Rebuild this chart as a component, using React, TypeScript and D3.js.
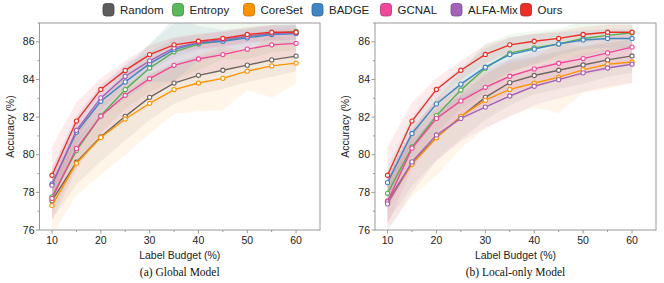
import React from "react";
import * as d3 from "d3";

const budgets = [10, 15, 20, 25, 30, 35, 40, 45, 50, 55, 60];
const methods = ["Random", "Entropy", "CoreSet", "BADGE", "GCNAL", "ALFA-Mix", "Ours"];
const lineColors = ["#6f6560", "#55b050", "#ff9400", "#3f86c4", "#f0479a", "#a463b8", "#ec2f25"];
const legendColors = ["#5c5c5c", "#5cb85c", "#ff9400", "#3f86c4", "#f0479a", "#a463b8", "#ec2f25"];

// (a) Global Model — means
const globalRandom = [77.56, 79.6, 80.95, 82.04, 83.05, 83.81, 84.22, 84.49, 84.76, 85.04, 85.24];
const globalEntropy = [77.76, 80.22, 82.07, 83.46, 84.61, 85.47, 85.88, 86.06, 86.28, 86.45, 86.55];
const globalCoreSet = [77.31, 79.55, 80.92, 81.9, 82.73, 83.46, 83.81, 84.06, 84.44, 84.72, 84.87];
const globalBADGE = [78.45, 81.19, 82.84, 83.87, 84.84, 85.59, 85.94, 86.03, 86.21, 86.39, 86.44];
const globalGCNAL = [77.68, 80.33, 82.05, 83.16, 84.04, 84.75, 85.09, 85.32, 85.61, 85.84, 85.92];
const globalALFAMix = [78.38, 81.3, 83.02, 84.17, 84.99, 85.68, 85.97, 86.12, 86.3, 86.45, 86.47];
const globalOurs = [78.91, 81.79, 83.47, 84.48, 85.32, 85.84, 86.03, 86.18, 86.39, 86.51, 86.51];

// (a) Global Model — std
const globalRandomStd = [1.0, 1.2, 1.3, 1.3, 1.2, 1.1, 1.0, 1.0, 0.9, 0.9, 0.8];
const globalEntropyStd = [0.9, 0.9, 0.9, 1.0, 1.3, 1.5, 1.4, 1.0, 1.2, 1.0, 1.0];
const globalCoreSetStd = [1.6, 1.7, 2.0, 1.9, 1.6, 1.3, 1.5, 1.7, 1.0, 1.7, 1.1];
const globalBADGEStd = [0.8, 0.8, 0.8, 0.9, 1.0, 1.7, 0.9, 0.6, 0.5, 0.5, 0.5];
const globalGCNALStd = [1.2, 1.1, 1.0, 1.0, 0.9, 0.9, 0.8, 0.8, 0.8, 0.8, 0.8];
const globalALFAMixStd = [0.9, 0.8, 0.7, 0.6, 0.5, 0.5, 0.4, 0.4, 0.4, 0.4, 0.4];
const globalOursStd = [1.5, 1.0, 0.6, 0.5, 0.5, 0.4, 0.4, 0.4, 0.4, 0.4, 0.4];

// (b) Local-only Model — means
const localRandom = [77.53, 79.55, 80.92, 82.02, 83.05, 83.83, 84.21, 84.49, 84.77, 85.04, 85.25];
const localEntropy = [77.95, 80.41, 82.08, 83.44, 84.6, 85.4, 85.68, 85.89, 86.18, 86.34, 86.48];
const localCoreSet = [77.45, 79.5, 80.9, 82.04, 82.9, 83.47, 83.8, 84.12, 84.51, 84.81, 84.93];
const localBADGE = [78.52, 81.13, 82.7, 83.75, 84.65, 85.32, 85.61, 85.89, 86.1, 86.18, 86.18];
const localGCNAL = [77.5, 80.35, 81.93, 82.86, 83.58, 84.17, 84.56, 84.86, 85.11, 85.41, 85.72];
const localALFAMix = [77.39, 79.62, 81.05, 81.93, 82.53, 83.12, 83.64, 83.99, 84.35, 84.61, 84.81];
const localOurs = [78.91, 81.79, 83.47, 84.49, 85.33, 85.84, 86.03, 86.18, 86.39, 86.51, 86.51];

// (b) Local-only Model — std
const localRandomStd = [1.1, 1.2, 1.2, 1.2, 1.2, 1.2, 1.0, 1.0, 1.0, 0.9, 0.9];
const localEntropyStd = [0.9, 0.9, 0.9, 1.0, 1.3, 1.0, 0.9, 0.8, 0.9, 0.8, 0.8];
const localCoreSetStd = [1.4, 1.7, 2.0, 1.7, 1.5, 1.4, 1.3, 1.9, 1.2, 1.3, 1.1];
const localBADGEStd = [0.9, 0.9, 0.9, 0.9, 1.0, 0.9, 0.8, 0.6, 0.5, 0.5, 0.5];
const localGCNALStd = [1.2, 1.1, 1.0, 1.0, 1.0, 0.9, 0.9, 0.9, 0.9, 0.9, 0.8];
const localALFAMixStd = [1.5, 1.6, 1.4, 1.2, 1.1, 1.1, 1.0, 1.0, 1.0, 1.0, 1.0];
const localOursStd = [1.5, 1.0, 0.6, 0.5, 0.5, 0.4, 0.4, 0.4, 0.4, 0.4, 0.4];

const yMajorTicks = [76, 78, 80, 82, 84, 86];
const yMinorTicks = [77, 79, 81, 83, 85, 87];
const xMajorTicks = [10, 20, 30, 40, 50, 60];
const xMinorTicks = [15, 25, 35, 45, 55];

const globalMeans = [globalRandom, globalEntropy, globalCoreSet, globalBADGE, globalGCNAL, globalALFAMix, globalOurs];
const globalStds = [globalRandomStd, globalEntropyStd, globalCoreSetStd, globalBADGEStd, globalGCNALStd, globalALFAMixStd, globalOursStd];
const localMeans = [localRandom, localEntropy, localCoreSet, localBADGE, localGCNAL, localALFAMix, localOurs];
const localStds = [localRandomStd, localEntropyStd, localCoreSetStd, localBADGEStd, localGCNALStd, localALFAMixStd, localOursStd];

const SANS = "'Liberation Sans Narrow', 'Liberation Sans', Arial, sans-serif";
const SERIF = "'Liberation Serif', 'Times New Roman', serif";

type PanelProps = {
  id: string;
  left: number;
  right: number;
  means: number[][];
  stds: number[][];
  caption: string;
};

function Panel({ id, left, right, means, stds, caption }: PanelProps) {
  const top = 23;
  const bottom = 230;
  const x = d3.scaleLinear().domain([7.44, 64.9]).range([left, right]);
  const y = d3.scaleLinear().domain([76, 87]).range([bottom, top]);
  const line = d3
    .line<number>()
    .x((_, i) => x(budgets[i]))
    .y((d) => y(d));
  const area = (m: number[], s: number[]) =>
    d3
      .area<number>()
      .x((_, i) => x(budgets[i]))
      .y0((d, i) => y(d - s[i]))
      .y1((d, i) => y(d + s[i]))(m) || "";
  const cx = (left + right) / 2;
  return (
    <g>
      <defs>
        <clipPath id={`clip-${id}`}>
          <rect x={left} y={top} width={right - left} height={bottom - top} />
        </clipPath>
      </defs>
      <g clipPath={`url(#clip-${id})`}>
        {means.map((m, k) => (
          <path key={`b${k}`} d={area(m, stds[k])} fill={lineColors[k]} fillOpacity={0.09} stroke="none" />
        ))}
        {means.map((m, k) => (
          <g key={`l${k}`}>
            <path d={line(m) || ""} fill="none" stroke={lineColors[k]} strokeWidth={1.4} />
            {m.map((v, i) => (
              <circle key={i} cx={x(budgets[i])} cy={y(v)} r={2.1} fill="white" stroke={lineColors[k]} strokeWidth={1.1} />
            ))}
          </g>
        ))}
      </g>
      <rect x={left} y={top} width={right - left} height={bottom - top} fill="none" stroke="#9a9a9a" strokeWidth={1} />
      {yMajorTicks.map((t) => (
        <g key={`ym${t}`}>
          <line x1={left - 3.5} x2={left} y1={y(t)} y2={y(t)} stroke="#9a9a9a" />
          <text x={left - 5} y={y(t)} dy="0.35em" textAnchor="end" fontSize={10.5} fontFamily={SANS} fill="#222">
            {t}
          </text>
        </g>
      ))}
      {yMinorTicks.map((t) => (
        <line key={`yn${t}`} x1={left - 2} x2={left} y1={y(t)} y2={y(t)} stroke="#9a9a9a" />
      ))}
      {xMajorTicks.map((t) => (
        <g key={`xm${t}`}>
          <line x1={x(t)} x2={x(t)} y1={bottom} y2={bottom + 3.5} stroke="#9a9a9a" />
          <text x={x(t)} y={bottom + 14} textAnchor="middle" fontSize={10.5} fontFamily={SANS} fill="#222">
            {t}
          </text>
        </g>
      ))}
      {xMinorTicks.map((t) => (
        <line key={`xn${t}`} x1={x(t)} x2={x(t)} y1={bottom} y2={bottom + 2} stroke="#9a9a9a" />
      ))}
      <text x={cx} y={bottom + 29} textAnchor="middle" fontSize={10.5} fontFamily={SANS} fill="#222">
        Label Budget (%)
      </text>
      <text
        transform={`translate(${left - 26},${(top + bottom) / 2}) rotate(-90)`}
        textAnchor="middle"
        fontSize={10.5}
        fontFamily={SANS}
        fill="#222"
      >
        Accuracy (%)
      </text>
      <text x={cx} y={276} textAnchor="middle" fontSize={11.5} fontFamily={SERIF} fill="#111">
        {caption}
      </text>
    </g>
  );
}

const legendX = [108.5, 178, 249, 317.5, 386, 456.5, 526];

export default function App() {
  return (
    <svg
      width={664}
      height={283}
      viewBox="0 0 664 283"
      style={{ position: "absolute", left: 0, top: 0, background: "white" }}
    >
      <rect x={0} y={0} width={664} height={283} fill="white" />
      {methods.map((m, k) => (
        <g key={m}>
          <rect
            x={legendX[k] - 5.5}
            y={3.5}
            width={11}
            height={12.5}
            rx={3}
            fill={legendColors[k]}
            stroke={d3.color(legendColors[k])?.darker(0.8).toString()}
            strokeWidth={0.8}
          />
          <text x={legendX[k] + 11.5} y={10} dy="0.35em" fontSize={11.5} fontFamily={SANS} fill="#222">
            {m}
          </text>
        </g>
      ))}
      <Panel id="a" left={39.5} right={320} means={globalMeans} stds={globalStds} caption="(a) Global Model" />
      <Panel id="b" left={375} right={656} means={localMeans} stds={localStds} caption="(b) Local-only Model" />
    </svg>
  );
}
